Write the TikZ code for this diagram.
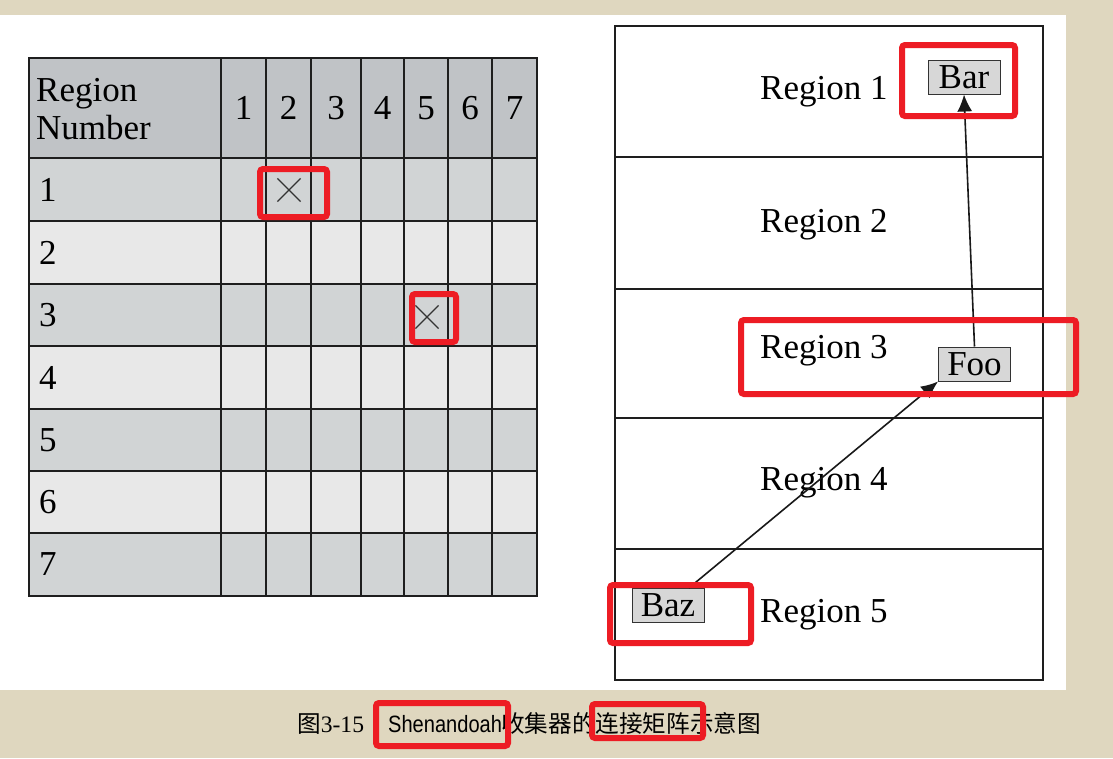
\documentclass[tikz,border=0pt]{standalone}
\usepackage{fontspec}
\setmainfont{Liberation Serif}
\newfontfamily\cjk{Noto Sans CJK SC}
\newfontfamily\capsans{Liberation Sans}
\usepackage{tikz}
\usetikzlibrary{arrows.meta, positioning, shapes.misc}
\definecolor{pagebg}{RGB}{223,215,191}
\definecolor{hlred}{RGB}{237,28,36}
\definecolor{hdrgray}{RGB}{192,195,198}
\definecolor{rowdark}{RGB}{209,212,213}
\definecolor{rowlight}{RGB}{232,232,232}
\definecolor{gridline}{RGB}{30,30,30}
\definecolor{boxgray}{RGB}{215,215,215}

\begin{document}
\begin{tikzpicture}[
    x=1pt, y=-1pt,
    big/.style={font=\fontsize{35}{38}\selectfont, inner sep=0pt},
    capfont/.style={font=\fontsize{23.6}{26}\selectfont, inner sep=0pt},
    gridrule/.style={draw=gridline, line width=1.3pt},
    crossmark/.style={cross out, draw=black!80, line width=1.2pt, minimum size=22pt, inner sep=0pt},
    obj/.style={rectangle, draw=black!80, fill=boxgray, line width=1pt, minimum width=72pt, minimum height=34pt, inner sep=0pt, font=\fontsize{35}{38}\selectfont},
    arrow/.style={-{Latex[length=17pt,width=15pt]}, line width=1.6pt, draw=black!90},
    hl/.style={draw=hlred, line width=6pt, rounded corners=3pt}
]
\useasboundingbox (0,0) rectangle (1113,758);
\fill[pagebg] (0,0) rectangle (1113,758);
\fill[white] (0,15) rectangle (1066,690);

% connection matrix
\fill[hdrgray] (29,58) rectangle (537,158);
\foreach \top/\bot/\col in {158/221/rowdark, 221/284/rowlight, 284/346/rowdark, 346/409/rowlight, 409/471/rowdark, 471/533/rowlight, 533/596/rowdark}
  \fill[\col] (29,\top) rectangle (537,\bot);
\foreach \y in {158,221,284,409,471,533}
  \draw[gridrule] (29,\y) -- (537,\y);
\draw[gridrule, line width=2.6pt] (29,346) -- (537,346);
\foreach \x in {221,266,311,361,404,448,492}
  \draw[gridrule] (\x,58) -- (\x,596);
\draw[gridrule] (29,58) rectangle (537,596);

\node[big, align=left, anchor=west] (hdr) at (36,109) {Region\\Number};
\foreach \i/\x in {1/243.5, 2/288.5, 3/336, 4/382.5, 5/426, 6/470, 7/514.5}
  \node[big] (col\i) at (\x,108) {\i};
\foreach \i/\y in {1/189.5, 2/252.5, 3/315, 4/377.5, 5/440, 6/502, 7/564.5}
  \node[big, anchor=west] (row\i) at (39,\y) {\i};

\node[crossmark] (x12) at (289,190) {};
\node[crossmark] (x35) at (427,317) {};

% heap regions
\draw[gridrule] (615,26) rectangle (1043,680);
\foreach \y in {157,289,418,549}
  \draw[gridrule] (615,\y) -- (1043,\y);
\foreach \i/\y in {1/99, 2/232, 3/358, 4/490, 5/622}
  \node[big, anchor=base west] (reg\i) at (760,\y) {Region \i};

\node[obj] (bar) at (964,77) {Bar};
\node[obj] (foo) at (974.5,364) {Foo};
\node[obj] (baz) at (668,605.5) {Baz};
\draw[arrow] (foo.north) -- (bar.south);
\draw[arrow] (baz.40) -- (foo.south west);

% caption
\node[capfont, anchor=base west] (capnum) at (297,732) {{\cjk 图}3-15};
\node[capfont, anchor=base west] (capname) at (388,732) {\scalebox{0.85}[1]{\capsans Shenandoah}};
\node[capfont, anchor=base west] (captext) at (501,732) {\cjk 收集器的连接矩阵示意图};

% highlights
\draw[hl] (260,169) rectangle (327,217);
\draw[hl] (412,294) rectangle (456,342);
\draw[hl] (902,45) rectangle (1015,116);
\draw[hl] (741,320) rectangle (1076,394);
\draw[hl] (610,585) rectangle (751,643);
\draw[hl] (376,703) rectangle (508,746);
\draw[hl] (592,704) rectangle (703,738);
\end{tikzpicture}
\end{document}
